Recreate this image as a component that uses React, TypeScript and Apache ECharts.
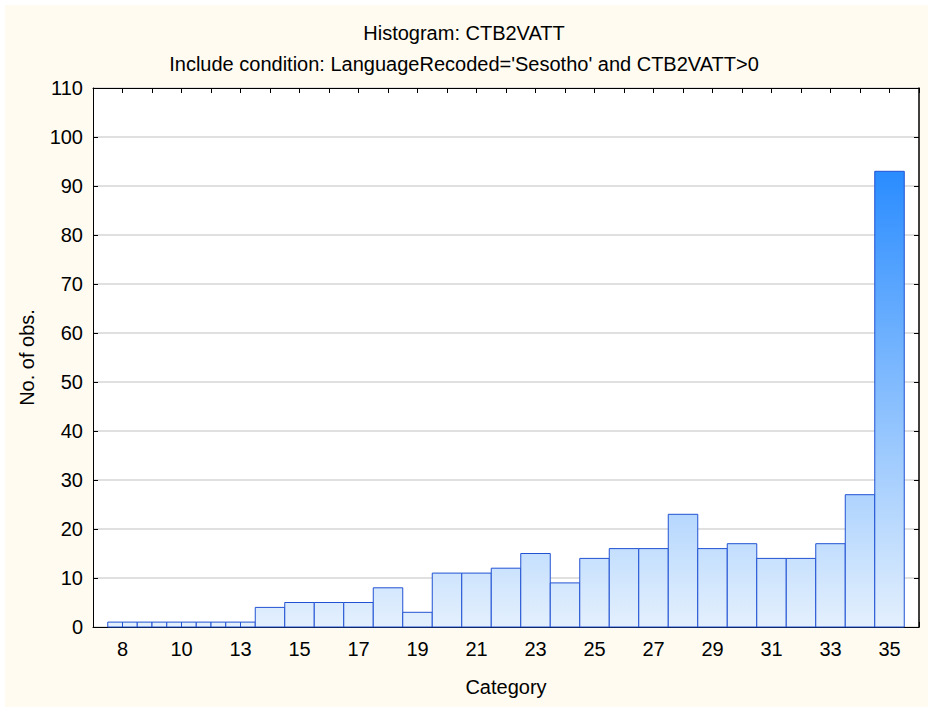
import React, { useEffect, useRef } from "react";
import * as echarts from "echarts";

// Tick labels shown under every second category slot
const tickLabels = ["8", "10", "13", "15", "17", "19", "21", "23", "25", "27", "29", "31", "33", "35"];
// Ten half-width bins spread over the first five category slots (8 … 13)
const narrowBinCounts = [1, 1, 1, 1, 1, 1, 1, 1, 1, 1];
// One full-width bin per category slot, 14 … 35
const wideBinCounts = [4, 5, 5, 5, 8, 3, 11, 11, 12, 15, 9, 14, 16, 16, 23, 16, 17, 14, 14, 17, 27, 93];

const titleText = "Histogram: CTB2VATT";
const subtitleText = "Include condition: LanguageRecoded='Sesotho' and CTB2VATT>0";
const xName = "Category";
const yName = "No. of obs.";

const FONT = "'Liberation Sans', Arial, sans-serif";

export default function App() {
  const ref = useRef<HTMLDivElement>(null);

  useEffect(() => {
    if (!ref.current) return;
    const chart = echarts.init(ref.current, undefined, { renderer: "svg" });

    const bins: number[][] = [];
    narrowBinCounts.forEach((c, i) => {
      bins.push([-0.5 + i * 0.5, -0.5 + (i + 1) * 0.5, c]);
    });
    const firstWideSlot = narrowBinCounts.length / 2;
    wideBinCounts.forEach((c, j) => {
      const s = firstWideSlot + j;
      bins.push([s - 0.5, s + 0.5, c]);
    });
    const maxCount = Math.max(...narrowBinCounts, ...wideBinCounts);
    const nSlots = tickLabels.length * 2 - 1;

    const labelStyle = { color: "#000", fontSize: 20, fontFamily: FONT };

    const option: any = {
      animation: false,
      backgroundColor: "#fffbf0",
      textStyle: { fontFamily: FONT },
      title: [
        { text: titleText, left: "center", top: 23, padding: 0, textStyle: { ...labelStyle, fontWeight: "normal" } },
        { text: subtitleText, left: "center", top: 54, padding: 0, textStyle: { ...labelStyle, fontWeight: "normal" } },
      ],
      graphic: [
        { type: "rect", left: 0, top: 0, shape: { width: 928, height: 5 }, style: { fill: "#ffffff" }, silent: true },
        { type: "rect", left: 0, top: 0, shape: { width: 5, height: 707 }, style: { fill: "#ffffff" }, silent: true },
      ],
      grid: {
        left: 93,
        right: 9,
        top: 88,
        bottom: 80,
        show: true,
        backgroundColor: "#ffffff",
        borderWidth: 0,
        containLabel: false,
      },
      xAxis: [
        {
          type: "value",
          position: "bottom",
          min: -1,
          max: nSlots,
          interval: 1,
          axisLine: { show: true, onZero: false, lineStyle: { color: "#000", width: 1 } },
          axisTick: { show: true, inside: true, length: 5, lineStyle: { color: "#000" } },
          axisLabel: {
            ...labelStyle,
            margin: 12,
            formatter: (v: number) => {
              if (v >= 0 && v % 2 === 0 && v / 2 < tickLabels.length) return tickLabels[v / 2];
              return "";
            },
          },
          splitLine: { show: false },
          name: xName,
          nameLocation: "middle",
          nameGap: 50,
          nameTextStyle: labelStyle,
        },
        {
          type: "value",
          position: "top",
          min: -1,
          max: nSlots,
          interval: 1,
          axisLine: { show: true, onZero: false, lineStyle: { color: "#000", width: 1 } },
          axisTick: { show: true, inside: true, length: 5, lineStyle: { color: "#000" } },
          axisLabel: { show: false },
          splitLine: { show: false },
        },
      ],
      yAxis: [
        {
          type: "value",
          position: "left",
          min: 0,
          max: 110,
          interval: 10,
          axisLine: { show: true, onZero: false, lineStyle: { color: "#000", width: 1 } },
          axisTick: { show: true, inside: true, length: 5, lineStyle: { color: "#000" } },
          axisLabel: { ...labelStyle, margin: 10 },
          splitLine: { show: true, lineStyle: { color: "#d6d6d6", width: 1.5 } },
          name: yName,
          nameLocation: "middle",
          nameGap: 56,
          nameRotate: 90,
          nameTextStyle: labelStyle,
        },
        {
          type: "value",
          position: "right",
          min: 0,
          max: 110,
          interval: 10,
          axisLine: { show: true, onZero: false, lineStyle: { color: "#000", width: 1.5 } },
          axisTick: { show: true, inside: true, length: 5, lineStyle: { color: "#000" } },
          axisLabel: { show: false },
          splitLine: { show: false },
        },
      ],
      series: [
        {
          type: "custom",
          xAxisIndex: 0,
          yAxisIndex: 0,
          encode: { x: [0, 1], y: 2 },
          data: bins,
          renderItem: (params: any, api: any) => {
            const x0 = api.value(0);
            const x1 = api.value(1);
            const v = api.value(2);
            const pTop = api.coord([x0, v]);
            const pBot = api.coord([x1, 0]);
            const gTop = api.coord([0, maxCount])[1];
            const gBot = api.coord([0, 0])[1];
            return {
              type: "rect",
              shape: {
                x: pTop[0],
                y: pTop[1],
                width: pBot[0] - pTop[0],
                height: pBot[1] - pTop[1],
              },
              style: {
                fill: new echarts.graphic.LinearGradient(
                  0,
                  gTop,
                  0,
                  gBot,
                  [
                    { offset: 0, color: "#2a8cff" },
                    { offset: 1, color: "#e4f0fd" },
                  ],
                  true
                ),
                stroke: "#2152d3",
                lineWidth: 1,
              },
            };
          },
        },
      ],
    };

    chart.setOption(option);
    return () => chart.dispose();
  }, []);

  return (
    <div style={{ position: "fixed", left: 0, top: 0, width: 928, height: 707 }}>
      <div ref={ref} style={{ width: 928, height: 707 }} />
    </div>
  );
}
